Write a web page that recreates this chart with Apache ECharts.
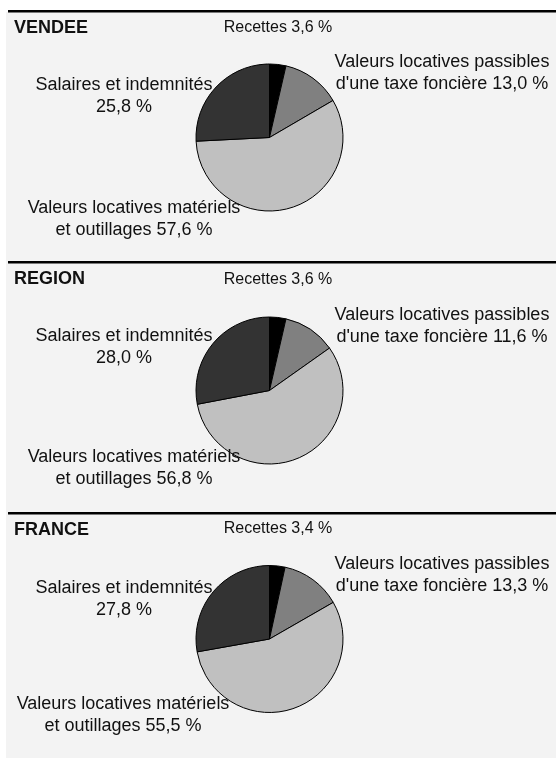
<!DOCTYPE html>
<html>
<head>
<meta charset="utf-8">
<script src="https://cdn.jsdelivr.net/npm/echarts@6/dist/echarts.min.js"></script>
<style>
  html, body { margin: 0; padding: 0; background: #fff; }
  #chart { width: 556px; height: 758px; }
</style>
</head>
<body>
<div id="chart"></div>
<script>
const zones = ['VENDEE', 'REGION', 'FRANCE']
// libellés des parts (le \n marque le retour à la ligne)
const categories = [
  'Recettes',
  'Valeurs locatives passibles\nd\'une taxe foncière',
  'Valeurs locatives matériels\net outillages',
  'Salaires et indemnités\n'
]
const vendee = [3.6, 13.0, 57.6, 25.8]
const region = [3.6, 11.6, 56.8, 28.0]
const france = [3.4, 13.3, 55.5, 27.8]
const zoneValues = [vendee, region, france]

const COLORS = ['#000000', '#808080', '#c0c0c0', '#333333']
const LABEL_SIZE = [16, 18, 18, 18]
const FONT = '"Liberation Sans", Arial, sans-serif'
const TEXT = '#111111'

// mise en page : trait noir de chaque bloc, centre des camemberts, position des étiquettes
const panelTop = [10, 261, 512]
const pieCenterY = [137.5, 390.5, 639]
const labelPos = [
  [[278, 27.5], [442, 73], [134, 219], [124, 96]],
  [[278, 280], [442, 326], [134, 468], [124, 347]],
  [[278, 529], [442, 575], [123, 715], [124, 599]]
]

const fmt = (v) => v.toFixed(1).replace('.', ',') + ' %'

const chart = echarts.init(document.getElementById('chart'))

const graphics = [
  { type: 'rect', z: -10, shape: { x: 6, y: 12, width: 550, height: 746 }, style: { fill: '#f3f3f3' } }
]
panelTop.forEach((top, i) => {
  graphics.push({ type: 'rect', shape: { x: 8, y: top, width: 548, height: 2.5 }, style: { fill: '#000' } })
  graphics.push({
    type: 'text',
    x: 14,
    y: top + 18,
    style: { text: zones[i], font: 'bold 18px ' + FONT, fill: TEXT, verticalAlign: 'middle' }
  })
})

const series = zoneValues.map((vals, s) => ({
  type: 'pie',
  center: [269.5, pieCenterY[s]],
  radius: 73.5,
  startAngle: 90,
  clockwise: true,
  silent: true,
  animation: false,
  emphasis: { disabled: true },
  data: vals.map((v, i) => ({
    name: categories[i],
    value: v,
    itemStyle: { color: COLORS[i] },
    label: { fontSize: LABEL_SIZE[i] }
  })),
  itemStyle: { borderColor: '#000', borderWidth: 1 },
  label: {
    show: true,
    position: 'outside',
    overflow: 'none',
    color: TEXT,
    fontFamily: FONT,
    fontSize: 18,
    lineHeight: 22,
    align: 'center',
    formatter: (p) => p.name + (p.name.endsWith('\n') ? '' : ' ') + fmt(p.value)
  },
  labelLine: { show: false },
  labelLayout: (p) => ({
    x: labelPos[s][p.dataIndex][0],
    y: labelPos[s][p.dataIndex][1],
    align: 'center',
    verticalAlign: 'middle'
  })
}))

chart.setOption({
  backgroundColor: '#fff',
  animation: false,
  graphic: graphics,
  series: series
})
</script>
</body>
</html>
